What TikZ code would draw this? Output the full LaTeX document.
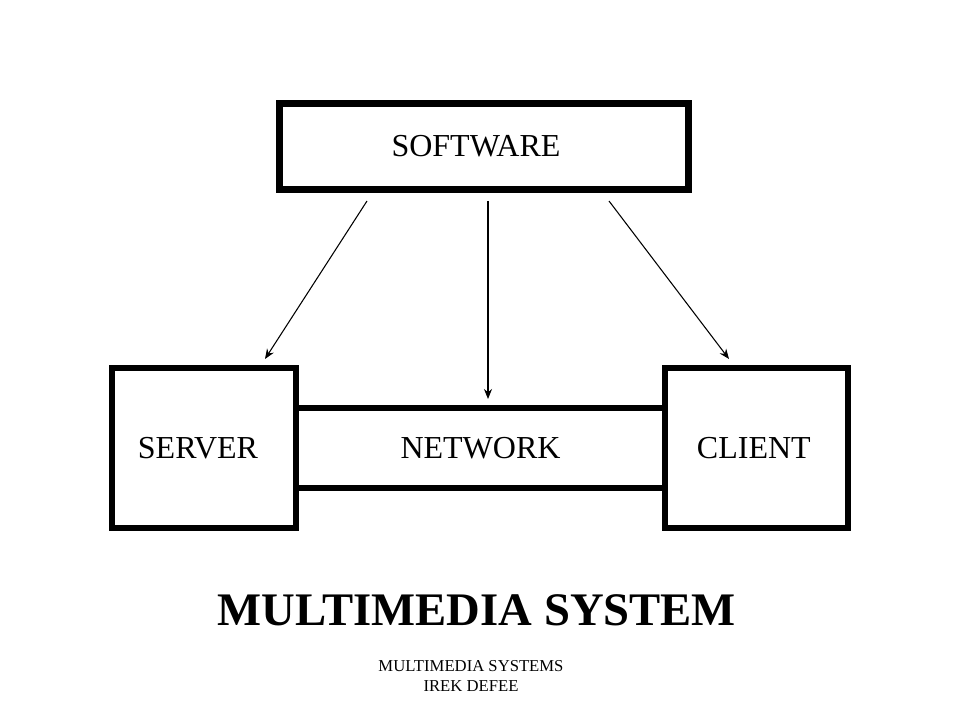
\documentclass[tikz,border=0pt]{standalone}
\usepackage{fontspec}
\setmainfont{Liberation Serif}
\usetikzlibrary{arrows.meta}
\begin{document}
\begin{tikzpicture}[x=0.75pt,y=-0.75pt,
  box/.style={draw=black,line width=5pt,fill=white,inner sep=0pt,outer sep=0pt,font=\fontsize{24}{28}\selectfont},
  conn/.style={line width=0.8pt,-{Stealth[length=7.5pt,width=6pt]}}]
\useasboundingbox[fill=white] (0,0) rectangle (960,720);
\node[box,minimum width=276.75pt,minimum height=60pt] (net) at (480.5,448) {NETWORK};
\node[box,minimum width=138pt,minimum height=120pt] (srv) at (204,448) {\hspace*{-9pt}SERVER};
\node[box,minimum width=137.25pt,minimum height=120pt] (cli) at (756.5,448) {\hspace*{-4pt}CLIENT};
\node[box,minimum width=306.75pt,minimum height=64.5pt] (sw) at (484,146.5) {\hspace*{-12pt}SOFTWARE};
\coordinate (a1) at (367,201);
\coordinate (a2) at (488,201);
\coordinate (a3) at (609,201);
\coordinate (t1) at (265,359);
\coordinate (t2) at (488,399);
\coordinate (t3) at (729,359);
\draw[conn] (a1) -- (t1);
\draw[conn] (a2) -- (t2);
\draw[conn] (a3) -- (t3);
\node[font=\bfseries\fontsize{35}{40}\selectfont] (title) at (477,610) {MULTIMEDIA SYSTEM};
\node[font=\fontsize{12.5}{15}\selectfont,align=center] (foot) at (471,676) {MULTIMEDIA SYSTEMS\\IREK DEFEE};
\end{tikzpicture}
\end{document}
